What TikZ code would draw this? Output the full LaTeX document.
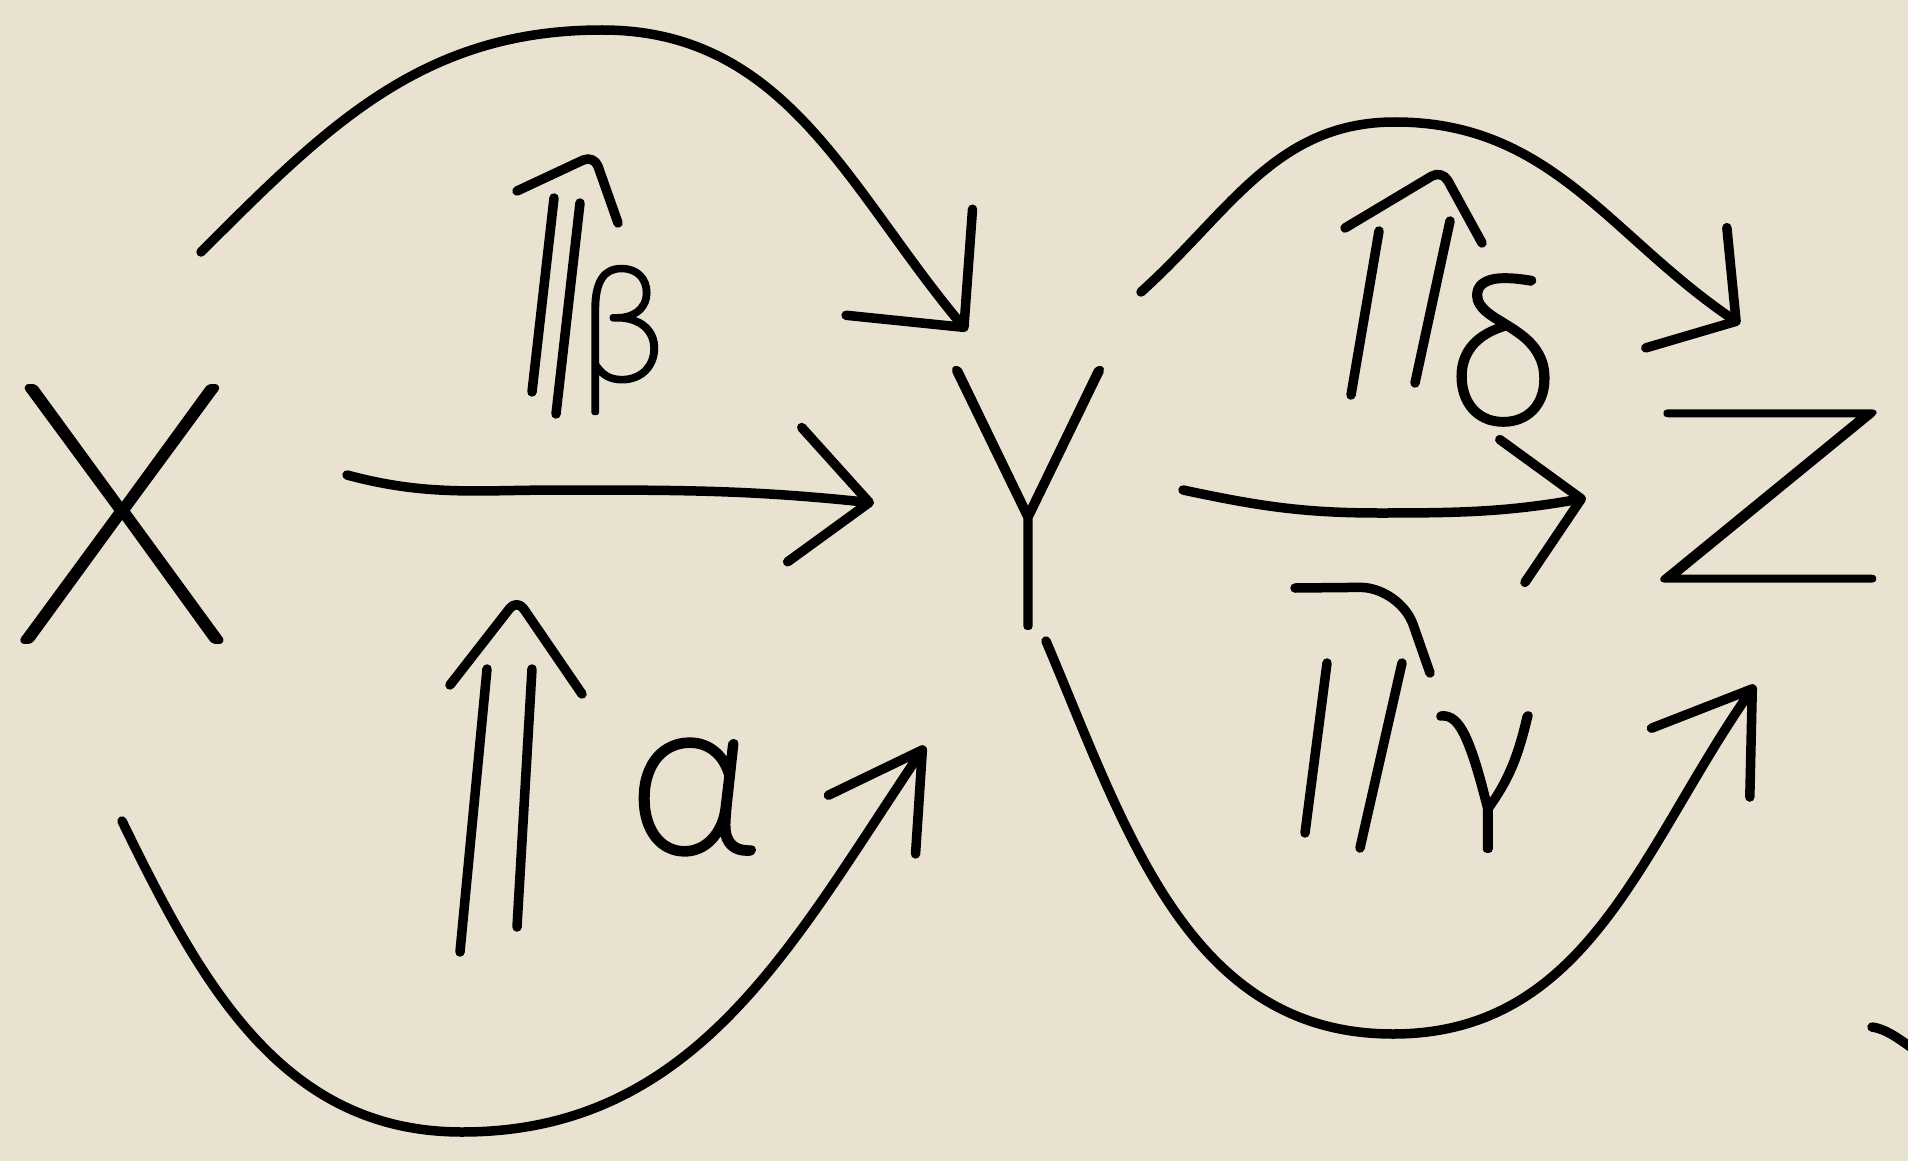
\documentclass[tikz,border=0pt]{standalone}
\usepackage{fontspec}
\usepackage{graphicx}
\usetikzlibrary{arrows.meta}
\newfontfamily\handL{Lato Hairline}[FakeBold=2.2]
\newfontfamily\handS{Lato Hairline}[FakeBold=3.8]
\definecolor{paper}{RGB}{233,226,208}
\begin{document}
\begin{tikzpicture}[x=1pt,y=-1pt,line width=9.5pt,line cap=round,line join=round,
  every path/.append style={line width=9.5pt},
  hd/.style 2 args={-{Straight Barb[length=#1,width=#2,round]}},
  lbl/.style={inner sep=0pt,font=\handL\fontsize{#1}{#1}\selectfont},
  glbl/.style={inner sep=0pt,font=\handS\fontsize{#1}{#1}\selectfont}]
\fill[paper] (0,0) rectangle (1908,1161);
\useasboundingbox (0,0) rectangle (1908,1161);
% X -> Y
\coordinate (f1s) at (201,252); \coordinate (f1p) at (602,30); \coordinate (f1e) at (967,331);
\draw[hd={85pt}{165pt}] (f1s) to[out=45,in=180] (f1p) to[out=0,in=130] (f1e);
\coordinate (f2s) at (347,475); \coordinate (f2m) at (560,490); \coordinate (f2e) at (874,503);
\draw[hd={75pt}{135pt}] (f2s) to[out=-15,in=180] (f2m) to[out=0,in=174] (f2e);
\coordinate (f3s) at (122,821); \coordinate (f3b) at (462,1132); \coordinate (f3e) at (925,746);
\draw[hd={90pt}{105pt}] (f3s) to[out=-64,in=180] (f3b) to[out=0,in=-124] (f3e);
% Y -> Z
\coordinate (g1s) at (1141,292); \coordinate (g1p) at (1395,122); \coordinate (g1e) at (1740,324);
\draw[hd={60pt}{145pt}] (g1s) to[out=42,in=180] (g1p) to[out=0,in=146] (g1e);
\coordinate (g2s) at (1183,490); \coordinate (g2m) at (1380,513); \coordinate (g2e) at (1586,498);
\draw[hd={70pt}{145pt}] (g2s) to[out=-12,in=180] (g2m) to[out=0,in=-170] (g2e);
\coordinate (g3s) at (1046,641); \coordinate (g3b) at (1393,1034); \coordinate (g3e) at (1755,685);
\draw[hd={90pt}{120pt}] (g3s) to[out=-67,in=180] (g3b) to[out=0,in=-125] (g3e);
% 2-cell beta
\coordinate (bL0) at (532,392); \coordinate (bL1) at (554,198);
\coordinate (bR0) at (556,414); \coordinate (bR1) at (580,203);
\coordinate (bA) at (517,191); \coordinate (bT) at (594,155); \coordinate (bB) at (618,223);
\draw (bL0) -- (bL1); \draw (bR0) -- (bR1);
\draw[rounded corners=12pt] (bA) -- (bT) -- (bB);
% 2-cell alpha
\coordinate (aL0) at (460,952); \coordinate (aL1) at (487,669);
\coordinate (aR0) at (517,927); \coordinate (aR1) at (532,669);
\coordinate (aA) at (450,685); \coordinate (aT) at (517,599); \coordinate (aB) at (582,694);
\draw (aL0) -- (aL1); \draw (aR0) -- (aR1);
\draw[rounded corners=12pt] (aA) -- (aT) -- (aB);
% 2-cell delta
\coordinate (dL0) at (1351,395); \coordinate (dL1) at (1379,231);
\coordinate (dR0) at (1415,383); \coordinate (dR1) at (1450,221);
\coordinate (dA) at (1345,228); \coordinate (dT) at (1442,170); \coordinate (dB) at (1482,243);
\draw (dL0) -- (dL1); \draw (dR0) -- (dR1);
\draw[rounded corners=12pt] (dA) -- (dT) -- (dB);
% 2-cell gamma
\coordinate (cL0) at (1305,833); \coordinate (cL1) at (1327,663);
\coordinate (cR0) at (1360,848); \coordinate (cR1) at (1402,663);
\coordinate (cA) at (1295,588); \coordinate (cT) at (1400,587); \coordinate (cB) at (1430,673);
\draw (cL0) -- (cL1); \draw (cR0) -- (cR1);
\draw[rounded corners=40pt] (cA) -- (cT) -- (cB);
% stray mark
\draw (1872,1027) .. controls (1885,1029) and (1895,1036) .. (1912,1048);
% objects and labels
\node[lbl=360pt] (X) at (122,514) {X};
\node[lbl=365pt] (Y) at (1028,498) {\scalebox{0.75}[1]{Y}};
\node[lbl=240pt] (Z) at (1769,496) {\scalebox{1.7}[1]{Z}};
\node[glbl=158pt] (beta) at (622,340) {β};
\node[glbl=220pt] (alpha) at (692,797) {α};
\node[glbl=205pt] (delta) at (1503,350) {δ};
\node[glbl=200pt] (gamma) at (1485,782) {γ};
\end{tikzpicture}
\end{document}
